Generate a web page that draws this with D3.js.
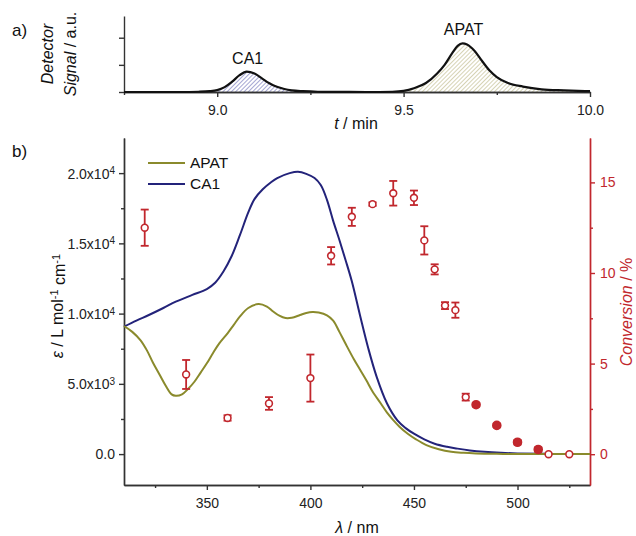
<!DOCTYPE html>
<html>
<head>
<meta charset="utf-8">
<script src="https://cdn.jsdelivr.net/npm/d3@7"></script>
<style>
  body { margin: 0; background: #fff; }
  svg { font-family: "Liberation Sans", Arial, sans-serif; }
  .axis path, .axis line { stroke: #333; stroke-width: 1.4; }
  .axis text { fill: #222; font-size: 14px; }
  .red path, .red line { stroke: #c1272d; }
  .red text { fill: #c1272d; }
</style>
</head>
<body>
<div id="chart"></div>
<script>
// panel a) chromatogram trace
const chromT = [8.75, 8.90, 8.95, 8.98, 9.00, 9.02, 9.04, 9.06, 9.079, 9.10, 9.12, 9.14, 9.16, 9.18, 9.20, 9.23, 9.27, 9.32, 9.40,
  9.47, 9.50, 9.53, 9.56, 9.59, 9.61, 9.63, 9.645, 9.658, 9.67, 9.69, 9.71, 9.73, 9.75, 9.78, 9.82, 9.87, 9.93, 10.0];
const chromS = [0, 0, 0.01, 0.03, 0.07, 0.18, 0.38, 0.62, 0.75, 0.68, 0.5, 0.32, 0.19, 0.11, 0.06, 0.03, 0.01, 0.005, 0,
  0.01, 0.04, 0.15, 0.33, 0.68, 1.0, 1.42, 1.7, 1.79, 1.75, 1.52, 1.15, 0.8, 0.55, 0.33, 0.2, 0.1, 0.06, 0.03];
const peakRanges = [{name: 'CA1', from: 8.95, to: 9.32}, {name: 'APAT', from: 9.47, to: 10.0}];

// panel b) absorption spectra
const caWl = [310, 316, 322, 329, 335, 343, 350, 354, 358, 362, 366, 370, 373, 377, 381, 384, 390, 394, 398, 402, 405, 408,
  411, 414, 417, 420, 424, 428, 432, 437, 442, 446, 450, 455, 460, 466, 471, 477, 484, 492, 500, 515, 535];
const caEps = [9070, 9500, 9900, 10400, 10850, 11330, 11750, 12200, 13000, 14100, 15600, 17200, 18150, 18850, 19350, 19650,
  20000, 20100, 19950, 19650, 19150, 18100, 16600, 15240, 13800, 12300, 9850, 7500, 5500, 3600, 2400, 1850, 1450, 1050, 740,
  520, 390, 260, 160, 90, 50, 15, 0];
const apWl = [310, 314, 318, 321, 324, 327, 330, 333, 335, 338, 341, 344, 347, 350, 353, 356, 360, 363, 366, 370, 375, 379,
  382, 385, 388, 391, 395, 398, 401, 404, 408, 411, 414, 417, 421, 424, 427, 430, 434, 437, 440, 443, 447, 451, 456, 462, 468,
  474, 480, 490, 500, 535];
const apEps = [9120, 8700, 8100, 7400, 6500, 5700, 4900, 4250, 4150, 4250, 4650, 5150, 5800, 6460, 7200, 7880, 8600, 9200,
  9800, 10400, 10680, 10500, 10150, 9850, 9680, 9700, 9900, 10050, 10120, 10080, 9880, 9500, 8700, 7850, 6750, 6000, 5250,
  4450, 3600, 2950, 2420, 1950, 1450, 1050, 640, 340, 160, 90, 50, 20, 5, 0];

// conversion (%) with error bars; open and filled symbols
const convWl = [320, 340, 360, 380, 400, 410, 420, 430, 440, 450, 455, 460, 465, 470, 475, 515, 525];
const convVal = [12.5, 4.4, 2.0, 2.8, 4.2, 10.95, 13.1, 13.8, 14.4, 14.15, 11.8, 10.2, 8.2, 7.95, 3.15, 0, 0];
const convErr = [1.0, 0.8, 0.15, 0.35, 1.3, 0.48, 0.5, 0.1, 0.68, 0.4, 0.78, 0.28, 0.19, 0.42, 0.19, 0, 0];
const convFilledWl = [480, 490, 500, 510];
const convFilledVal = [2.73, 1.59, 0.66, 0.26];
const convFilledErr = [0.1, 0.1, 0.12, 0.12];

const leftTicks = [0, 5000, 10000, 15000, 20000];
const leftTickLabels = [['0.0', ''], ['5.0x10', '3'], ['1.0x10', '4'], ['1.5x10', '4'], ['2.0x10', '4']];
const rightTicks = [0, 5, 10, 15];
const xTicks = [350, 400, 450, 500];
const topTicks = [9.0, 9.5, 10.0];

const red = '#c1272d';
const apatColor = '#8a8a2c';
const caColor = '#23237a';

const svg = d3.select('#chart').append('svg').attr('width', 636).attr('height', 536);

const defs = svg.append('defs');
function hatch(id, color) {
  const p = defs.append('pattern').attr('id', id).attr('patternUnits', 'userSpaceOnUse')
    .attr('width', 3).attr('height', 3).attr('patternTransform', 'rotate(45)');
  p.append('rect').attr('width', 3).attr('height', 3).attr('fill', '#fff');
  p.append('line').attr('x1', 0).attr('y1', 0).attr('x2', 0).attr('y2', 3)
    .attr('stroke', color).attr('stroke-width', 1.1);
}
hatch('hatch-CA1', '#5a5eae');
hatch('hatch-APAT', '#b4ae78');

// ---------- panel a ----------
const xT = d3.scaleLinear().domain([8.75, 10.0]).range([124, 590]);
const yT = d3.scaleLinear().domain([0, 2.8]).range([92, 16]);
const chrom = chromT.map((t, i) => ({t: t, s: chromS[i]}));

peakRanges.forEach(r => {
  const pts = chrom.filter(d => d.t >= r.from && d.t <= r.to);
  svg.append('path').datum(pts)
    .attr('fill', `url(#hatch-${r.name})`)
    .attr('d', d3.area().x(d => xT(d.t)).y0(yT(0)).y1(d => yT(d.s)).curve(d3.curveMonotoneX));
});

svg.append('g').attr('class', 'axis').attr('transform', 'translate(0,92)')
  .call(d3.axisBottom(xT).tickValues([8.75, 9.25, 9.75]).tickSize(3).tickSizeOuter(0).tickFormat(''));
svg.append('g').attr('class', 'axis').attr('transform', 'translate(0,92)')
  .call(d3.axisBottom(xT).tickValues(topTicks).tickSize(5).tickSizeOuter(0).tickFormat(d3.format('.1f')))
  .selectAll('text').attr('dy', '1.05em');
svg.append('g').attr('class', 'axis').attr('transform', 'translate(124,0)')
  .call(d3.axisLeft(yT).tickValues([0, 1, 2]).tickSize(5).tickSizeOuter(0).tickFormat(''));

svg.append('path').datum(chrom)
  .attr('fill', 'none').attr('stroke', '#111').attr('stroke-width', 2.2)
  .attr('d', d3.line().x(d => xT(d.t)).y(d => yT(d.s)).curve(d3.curveMonotoneX));

const peakIdx = peakRanges.map(r => {
  const pts = chrom.filter(d => d.t >= r.from && d.t <= r.to);
  return d3.greatest(pts, d => d.s);
});
svg.selectAll('.peak-label').data(peakRanges).enter().append('text')
  .attr('x', (d, i) => xT(peakIdx[i].t) + 1)
  .attr('y', (d, i) => yT(peakIdx[i].s) - 8)
  .attr('text-anchor', 'middle').attr('font-size', 16).attr('fill', '#111')
  .text(d => d.name);

svg.append('text').attr('x', 12).attr('y', 36).attr('font-size', 17).attr('fill', '#111').text('a)');
const lblA = svg.append('text').attr('transform', 'translate(53,54) rotate(-90)')
  .attr('text-anchor', 'middle').attr('font-size', 16).attr('fill', '#111');
lblA.append('tspan').attr('font-style', 'italic').text('Detector');
const lblA2 = svg.append('text').attr('transform', 'translate(76,54) rotate(-90)')
  .attr('text-anchor', 'middle').attr('font-size', 16).attr('fill', '#111');
lblA2.append('tspan').attr('font-style', 'italic').text('Signal');
lblA2.append('tspan').text(' / a.u.');

const tLbl = svg.append('text').attr('x', 356).attr('y', 129).attr('text-anchor', 'middle')
  .attr('font-size', 16).attr('fill', '#111');
tLbl.append('tspan').attr('font-style', 'italic').text('t');
tLbl.append('tspan').text(' / min');

// ---------- panel b ----------
const x = d3.scaleLinear().domain([310, 535]).range([124, 590]);
const yL = d3.scaleLinear().domain([-2200, 22500]).range([485, 138]);
const yR = d3.scaleLinear().domain([-1.7, 17.45]).range([485, 138]);

// axes
svg.append('g').attr('class', 'axis').attr('transform', 'translate(0,485)')
  .call(d3.axisBottom(x).tickValues([325, 375, 425, 475, 525]).tickSize(3).tickSizeOuter(0).tickFormat(''));
svg.append('g').attr('class', 'axis').attr('transform', 'translate(0,485)')
  .call(d3.axisBottom(x).tickValues(xTicks).tickSize(5).tickSizeOuter(0))
  .selectAll('text').attr('dy', '1.05em');

svg.append('g').attr('class', 'axis').attr('transform', 'translate(124,0)')
  .call(d3.axisLeft(yL).tickValues([2500, 7500, 12500, 17500]).tickSize(3).tickSizeOuter(0).tickFormat(''));
const gL = svg.append('g').attr('class', 'axis').attr('transform', 'translate(124,0)')
  .call(d3.axisLeft(yL).tickValues(leftTicks).tickSize(5).tickSizeOuter(0).tickFormat(''));
gL.selectAll('.tick').each(function(d, i) {
  const lab = leftTickLabels[i];
  const t = d3.select(this).append('text').attr('x', -9).attr('dy', '0.35em').attr('text-anchor', 'end');
  t.append('tspan').text(lab[0]);
  if (lab[1]) t.append('tspan').attr('dy', '-0.45em').attr('font-size', 10).text(lab[1]);
});

svg.append('g').attr('class', 'axis red').attr('transform', 'translate(590,0)')
  .call(d3.axisRight(yR).tickValues([2.5, 7.5, 12.5]).tickSize(3).tickSizeOuter(0).tickFormat(''));
svg.append('g').attr('class', 'axis red').attr('transform', 'translate(590,0)')
  .call(d3.axisRight(yR).tickValues(rightTicks).tickSize(5).tickSizeOuter(0))
  .selectAll('text').attr('x', 10);

// spectra
const line = d3.line().x(d => x(d.wl)).y(d => yL(d.eps)).curve(d3.curveCatmullRom.alpha(0.5));
const series = [
  {name: 'APAT', color: apatColor, pts: apWl.map((w, i) => ({wl: w, eps: apEps[i]}))},
  {name: 'CA1', color: caColor, pts: caWl.map((w, i) => ({wl: w, eps: caEps[i]}))}
];
svg.selectAll('.spec').data(series.slice().reverse()).enter().append('path')
  .attr('fill', 'none').attr('stroke', d => d.color).attr('stroke-width', 2)
  .attr('d', d => line(d.pts));

// conversion points
const conv = convWl.map((w, i) => ({wl: w, v: convVal[i], e: convErr[i], filled: false}))
  .concat(convFilledWl.map((w, i) => ({wl: w, v: convFilledVal[i], e: convFilledErr[i], filled: true})));
const eb = svg.append('g').attr('stroke', red).attr('stroke-width', 1.8);
conv.filter(d => d.e > 0).forEach(d => {
  const cx = x(d.wl), y0 = yR(d.v - d.e), y1 = yR(d.v + d.e);
  eb.append('line').attr('x1', cx).attr('x2', cx).attr('y1', y0).attr('y2', y1);
  eb.append('line').attr('x1', cx - 4).attr('x2', cx + 4).attr('y1', y0).attr('y2', y0);
  eb.append('line').attr('x1', cx - 4).attr('x2', cx + 4).attr('y1', y1).attr('y2', y1);
});
svg.append('g').selectAll('circle').data(conv).enter().append('circle')
  .attr('cx', d => x(d.wl)).attr('cy', d => yR(d.v)).attr('r', d => d.filled ? 4 : 3.4)
  .attr('fill', d => d.filled ? red : '#fff').attr('stroke', red).attr('stroke-width', 1.6);

// legend
const leg = svg.append('g').attr('transform', 'translate(148,163)');
series.forEach((s, i) => {
  leg.append('line').attr('x1', 0).attr('x2', 37).attr('y1', i * 21).attr('y2', i * 21)
    .attr('stroke', s.color).attr('stroke-width', 2);
  leg.append('text').attr('x', 42).attr('y', i * 21).attr('dy', '0.35em')
    .attr('font-size', 15.5).attr('fill', '#111').text(s.name);
});

// labels
svg.append('text').attr('x', 12).attr('y', 157).attr('font-size', 17).attr('fill', '#111').text('b)');
const xl = svg.append('text').attr('x', 357).attr('y', 533).attr('text-anchor', 'middle')
  .attr('font-size', 16).attr('fill', '#111');
xl.append('tspan').attr('font-style', 'italic').text('λ');
xl.append('tspan').text(' / nm');

const yl = svg.append('text').attr('transform', 'translate(63,306) rotate(-90)')
  .attr('text-anchor', 'middle').attr('font-size', 16).attr('fill', '#111');
yl.append('tspan').attr('font-style', 'italic').text('ε');
yl.append('tspan').text(' / L mol');
yl.append('tspan').attr('dy', '-0.45em').attr('font-size', 11).text('-1');
yl.append('tspan').attr('dy', '0.45em').text(' cm');
yl.append('tspan').attr('dy', '-0.45em').attr('font-size', 11).text('-1');

const yr = svg.append('text').attr('transform', 'translate(632,312) rotate(-90)')
  .attr('text-anchor', 'middle').attr('font-size', 16).attr('fill', red);
yr.append('tspan').attr('font-style', 'italic').text('Conversion');
yr.append('tspan').text(' / %');
</script>
</body>
</html>
